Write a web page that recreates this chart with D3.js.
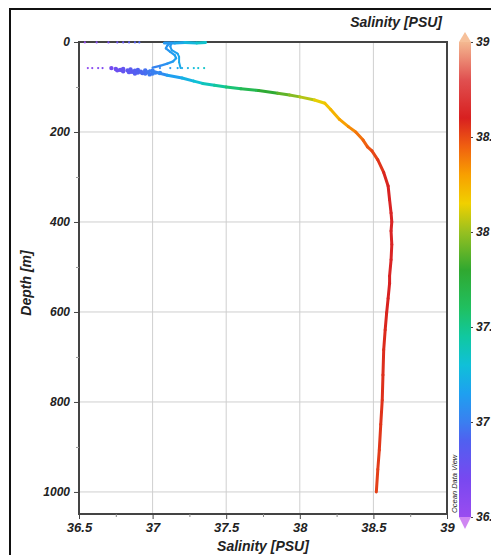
<!DOCTYPE html>
<meta charset="utf-8">
<head>
    <script src="https://d3js.org/d3.v7.min.js"></script>
    <style>
        body { margin: 0; background: #fff; }
        text { font-family: Arial, "Liberation Sans", sans-serif; font-weight: bold; font-style: italic; fill: #222; }
        .grid line { stroke: #cfcfcf; stroke-width: 1; }
    </style>
    <title>Salinity profile</title>
</head>
<body>
<svg id="chart" width="491" height="555"></svg>

<script>

    // ticks
    var salTicks = [36.5, 37, 37.5, 38, 38.5, 39];
    var salMinor = [36.75, 37.25, 37.75, 38.25, 38.75];
    var depthTicks = [0, 200, 400, 600, 800, 1000];
    var depthMinor = [100, 300, 500, 700, 900];

    // main cast (salinity, depth)
    var profileSal = [36.98, 37.03, 37.10, 37.20, 37.28, 37.34, 37.42, 37.50, 37.60, 37.72, 37.85, 37.93, 38.00,
        38.10, 38.17, 38.21, 38.27, 38.33, 38.38, 38.43, 38.46, 38.49, 38.53, 38.57, 38.60, 38.61, 38.62,
        38.625, 38.62, 38.625, 38.62, 38.61, 38.61, 38.60, 38.59, 38.58, 38.57, 38.565, 38.56, 38.55, 38.54,
        38.53, 38.52];
    var profileDepth = [64, 68, 74, 80, 87, 92, 96, 100, 104, 108, 114, 118, 122,
        129, 136, 150, 172, 188, 200, 218, 233, 242, 262, 290, 320, 351, 380,
        400, 420, 450, 484, 520, 536, 570, 602, 640, 684, 740, 796, 850, 907,
        950, 1000];

    // surface S-shaped loop, two branches
    var loopASal = [37.12, 37.10, 37.09, 37.12, 37.15, 37.16, 37.14, 37.10, 37.05, 37.00];
    var loopADepth = [2, 8, 14, 22, 29, 36, 43, 48, 53, 57];
    var loopBSal = [37.13, 37.12, 37.13, 37.17, 37.18, 37.18, 37.19];
    var loopBDepth = [2, 10, 18, 26, 33, 45, 58];

    // surface band
    var surfaceSal = [37.08, 37.15, 37.22, 37.30, 37.36];
    var surfaceDepth = [2, 2, 1, 2, 1];

    // low-salinity cluster near 60 m
    var clusterSal = [36.72, 36.75, 36.78, 36.80, 36.83, 36.85, 36.88, 36.90, 36.92, 36.95, 36.97, 37.00,
        37.02, 36.86, 36.80, 36.90, 36.95, 37.00, 37.05, 36.76, 36.84, 36.93, 36.98, 36.88];
    var clusterDepth = [58, 60, 62, 60, 63, 61, 64, 62, 66, 63, 67, 64,
        68, 66, 65, 68, 70, 70, 69, 63, 67, 69, 72, 70];

    // scattered single points
    var dotSal = [36.56, 36.59, 36.63, 36.66, 37.05, 37.12, 37.17, 37.20, 37.24, 37.28, 37.31, 37.35,
        36.54, 36.62, 36.70, 36.76, 36.80, 36.84, 36.88, 36.91];
    var dotDepth = [58, 58, 58, 58, 58, 58, 58, 58, 58, 58, 58, 58,
        1, 1, 1, 1, 1, 1, 1, 1];

    // colour bar
    var cbarStops = [36.5, 36.7, 36.9, 37.0, 37.15, 37.3, 37.45, 37.6, 37.8, 38.0, 38.15, 38.3, 38.45, 38.6, 38.8, 39.0];
    var cbarColors = ["#9a4cf0", "#7848f0", "#5060f0", "#3a7ff0", "#1ea0f0", "#10c0d8", "#10c8a0", "#20c060",
        "#30a830", "#98c020", "#f0d000", "#f8a000", "#f06010", "#d82020", "#e05050", "#f4b890"];

    var svg = d3.select("#chart");

    var plot = {left: 79, right: 447, top: 42, bottom: 514};

    var x = d3.scaleLinear().domain([36.5, 39]).range([plot.left, plot.right]);
    var y = d3.scaleLinear().domain([0, 1049]).range([plot.top, plot.bottom]);
    var color = d3.scaleLinear().domain(cbarStops).range(cbarColors).clamp(true);
    var fmt = function (d) { return String(d); };

    // outer frame
    svg.append("rect")
        .attr("x", 10).attr("y", 9)
        .attr("width", 520).attr("height", 580)
        .attr("fill", "none").attr("stroke", "#111").attr("stroke-width", 2);

    // grid
    var grid = svg.append("g").attr("class", "grid");
    grid.selectAll(".gx").data(salTicks.slice(1, -1)).enter().append("line")
        .attr("x1", function (d) { return x(d); }).attr("x2", function (d) { return x(d); })
        .attr("y1", plot.top).attr("y2", plot.bottom);
    grid.selectAll(".gy").data(depthTicks.slice(1)).enter().append("line")
        .attr("x1", plot.left).attr("x2", plot.right)
        .attr("y1", function (d) { return y(d); }).attr("y2", function (d) { return y(d); });

    // data
    var g = svg.append("g");

    function drawLine(sal, dep, width) {
        for (var i = 0; i < sal.length - 1; i++) {
            g.append("line")
                .attr("x1", x(sal[i])).attr("y1", y(dep[i]))
                .attr("x2", x(sal[i + 1])).attr("y2", y(dep[i + 1]))
                .attr("stroke", color((sal[i] + sal[i + 1]) / 2))
                .attr("stroke-width", width)
                .attr("stroke-linecap", "round");
        }
    }

    drawLine(surfaceSal, surfaceDepth, 3);
    drawLine(loopASal, loopADepth, 2.2);
    drawLine(loopBSal, loopBDepth, 2);
    drawLine(profileSal, profileDepth, 3);

    g.selectAll(".cl").data(d3.range(clusterSal.length)).enter().append("circle")
        .attr("cx", function (i) { return x(clusterSal[i]); })
        .attr("cy", function (i) { return y(clusterDepth[i]); })
        .attr("r", 2.2)
        .attr("fill", function (i) { return color(clusterSal[i]); });

    g.selectAll(".dt").data(d3.range(dotSal.length)).enter().append("circle")
        .attr("cx", function (i) { return x(dotSal[i]); })
        .attr("cy", function (i) { return y(dotDepth[i]); })
        .attr("r", 1.1)
        .attr("fill", function (i) { return color(dotSal[i]); });

    // axes box
    svg.append("rect")
        .attr("x", plot.left).attr("y", plot.top)
        .attr("width", plot.right - plot.left).attr("height", plot.bottom - plot.top)
        .attr("fill", "none").attr("stroke", "#444").attr("stroke-width", 2);

    // surface dots sit on top of the axis line
    g.raise();

    var xAxis = svg.append("g")
        .attr("transform", "translate(0," + plot.bottom + ")")
        .call(d3.axisBottom(x).tickValues(salTicks).tickSize(5).tickPadding(4).tickFormat(fmt));
    xAxis.select(".domain").remove();
    xAxis.selectAll("text").style("font-size", "13px");
    xAxis.selectAll("line").attr("stroke", "#444");

    var xMinor = svg.append("g")
        .attr("transform", "translate(0," + plot.bottom + ")")
        .call(d3.axisBottom(x).tickValues(salMinor).tickSize(3).tickFormat(""));
    xMinor.select(".domain").remove();
    xMinor.selectAll("line").attr("stroke", "#888");

    var yAxis = svg.append("g")
        .attr("transform", "translate(" + plot.left + ",0)")
        .call(d3.axisLeft(y).tickValues(depthTicks).tickSize(5).tickPadding(4).tickFormat(fmt));
    yAxis.select(".domain").remove();
    yAxis.selectAll("text").style("font-size", "12px");
    yAxis.selectAll("line").attr("stroke", "#444");

    var yMinor = svg.append("g")
        .attr("transform", "translate(" + plot.left + ",0)")
        .call(d3.axisLeft(y).tickValues(depthMinor).tickSize(3).tickFormat(""));
    yMinor.select(".domain").remove();
    yMinor.selectAll("line").attr("stroke", "#999");

    // titles
    svg.append("text")
        .attr("x", (plot.left + plot.right) / 2).attr("y", 551)
        .attr("text-anchor", "middle").style("font-size", "14px")
        .text("Salinity [PSU]");

    svg.append("text")
        .attr("transform", "translate(31," + 283 + ") rotate(-90)")
        .attr("text-anchor", "middle").style("font-size", "14px")
        .text("Depth [m]");

    svg.append("text")
        .attr("x", 442).attr("y", 27)
        .attr("text-anchor", "end").style("font-size", "14px")
        .text("Salinity [PSU]");

    svg.append("text")
        .attr("transform", "translate(457,513) rotate(-90)")
        .style("font-size", "7.5px").style("font-weight", "normal")
        .text("Ocean Data View");

    // colour bar
    var cb = {x: 459, w: 12};
    var cy = d3.scaleLinear().domain([36.5, 39]).range([517, 42]);

    var defs = svg.append("defs");
    var grad = defs.append("linearGradient").attr("id", "cbar")
        .attr("x1", 0).attr("y1", 1).attr("x2", 0).attr("y2", 0);
    grad.selectAll("stop").data(cbarStops).enter().append("stop")
        .attr("offset", function (d) { return (d - 36.5) / 2.5; })
        .attr("stop-color", function (d) { return color(d); });

    svg.append("rect")
        .attr("x", cb.x).attr("y", cy(39))
        .attr("width", cb.w).attr("height", cy(36.5) - cy(39))
        .attr("fill", "url(#cbar)");

    svg.append("path")
        .attr("d", "M" + cb.x + "," + cy(39) + "L" + (cb.x + cb.w / 2) + "," + (cy(39) - 10) + "L" + (cb.x + cb.w) + "," + cy(39) + "Z")
        .attr("fill", "#f6c09a");
    svg.append("path")
        .attr("d", "M" + cb.x + "," + cy(36.5) + "L" + (cb.x + cb.w / 2) + "," + (cy(36.5) + 12) + "L" + (cb.x + cb.w) + "," + cy(36.5) + "Z")
        .attr("fill", "#cf86f2");

    var cAxis = svg.append("g")
        .attr("transform", "translate(" + (cb.x + cb.w) + ",0)")
        .call(d3.axisRight(cy).tickValues(salTicks).tickSize(2).tickPadding(3).tickFormat(fmt));
    cAxis.select(".domain").remove();
    cAxis.selectAll("text").style("font-size", "12px");
    cAxis.selectAll("line").attr("stroke", "#444");

</script>
</body>
